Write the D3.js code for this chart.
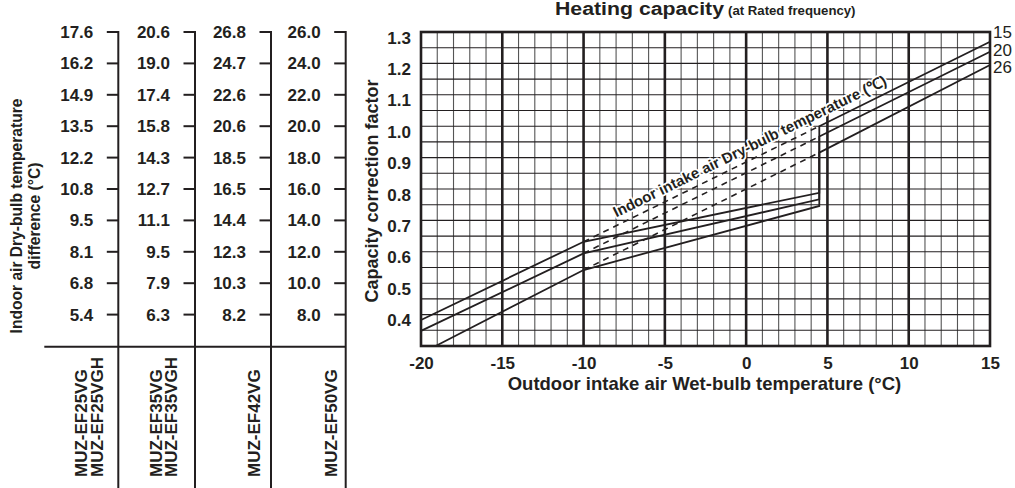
<!DOCTYPE html>
<html>
<head>
<meta charset="utf-8">
<script src="https://cdn.jsdelivr.net/npm/d3@7/dist/d3.min.js"></script>
<style>
  html, body { margin: 0; padding: 0; background: #fff; }
  svg { display: block; }
  text { font-family: "Liberation Sans", Arial, Helvetica, sans-serif; fill: #231f20; }
</style>
</head>
<body>
<svg id="chart" width="1015" height="488"></svg>
<script>
// ---------------- DATA ----------------
const xTicks = [-20, -15, -10, -5, 0, 5, 10, 15];
const yTicks = [0.4, 0.5, 0.6, 0.7, 0.8, 0.9, 1.0, 1.1, 1.2, 1.3];
const indoorTemps = ["15", "20", "26"];

// Solid curves, defrost region (outdoor WB, factor)
const defrost15 = [[-20, 0.383], [-10, 0.632], [4.5, 0.788]];
const defrost20 = [[-20, 0.348], [-10, 0.595], [4.5, 0.767]];
const defrost26 = [[-19.1, 0.300], [-10, 0.542], [4.5, 0.746]];
// Solid curves, no-defrost region
const rated15 = [[4.5, 1.000], [15, 1.269]];
const rated20 = [[4.5, 0.967], [15, 1.237]];
const rated26 = [[4.5, 0.916], [15, 1.195]];

// Left table: indoor air dry-bulb temperature difference per model
const models = [["MUZ-EF25VG", "MUZ-EF25VGH"], ["MUZ-EF35VG", "MUZ-EF35VGH"], ["MUZ-EF42VG"], ["MUZ-EF50VG"]];
const diffEF25 = [17.6, 16.2, 14.9, 13.5, 12.2, 10.8, 9.5, 8.1, 6.8, 5.4];
const diffEF35 = [20.6, 19.0, 17.4, 15.8, 14.3, 12.7, 11.1, 9.5, 7.9, 6.3];
const diffEF42 = [26.8, 24.7, 22.6, 20.6, 18.5, 16.5, 14.4, 12.3, 10.3, 8.2];
const diffEF50 = [26.0, 24.0, 22.0, 20.0, 18.0, 16.0, 14.0, 12.0, 10.0, 8.0];

// ---------------- DRAW ----------------
const svg = d3.select("#chart");
svg.append("rect").attr("width", 1015).attr("height", 488).attr("fill", "#fff");

const x = d3.scaleLinear().domain([-20, 15]).range([421, 990]);
const y = d3.scaleLinear().domain([0.3, 1.3]).range([346, 32]);
const ink = "#231f20";

// grid
const grid = svg.append("g");
d3.range(-19, 15).filter(v => v % 5 !== 0).forEach(v => {
  grid.append("line").attr("x1", x(v)).attr("x2", x(v)).attr("y1", y(1.3)).attr("y2", y(0.3))
    .attr("stroke", "#555").attr("stroke-width", 1.1);
});
d3.range(7, 26).map(i => i * 0.05).forEach(v => {
  grid.append("line").attr("x1", x(-20)).attr("x2", x(15)).attr("y1", y(v)).attr("y2", y(v))
    .attr("stroke", ink).attr("stroke-width", 1.1);
});
[-15, -10, -5, 0, 5, 10].forEach(v => {
  grid.append("line").attr("x1", x(v)).attr("x2", x(v)).attr("y1", y(1.3)).attr("y2", y(0.3))
    .attr("stroke", ink).attr("stroke-width", 2.6);
});
grid.append("rect").attr("x", x(-20)).attr("y", y(1.3))
  .attr("width", x(15) - x(-20)).attr("height", y(0.3) - y(1.3))
  .attr("fill", "none").attr("stroke", ink).attr("stroke-width", 2.6);

// curves
const line = d3.line().x(d => x(d[0])).y(d => y(d[1]));
const defrost = [defrost15, defrost20, defrost26];
const rated = [rated15, rated20, rated26];
const curves = svg.append("g");
defrost.forEach((d, i) => {
  curves.append("path").attr("d", line(d.concat(rated[i])))
    .attr("fill", "none").attr("stroke", ink).attr("stroke-width", 1.8).attr("stroke-linejoin", "miter");
  curves.append("path").attr("d", line([d[1], rated[i][0]]))
    .attr("fill", "none").attr("stroke", ink).attr("stroke-width", 1.6).attr("stroke-dasharray", "6,5");
});

// curve label along dashed lines
const a0 = [x(-10), y(0.632)], a1 = [x(4.5), y(1.0)];
const ang = Math.atan2(a1[1] - a0[1], a1[0] - a0[0]) * 180 / Math.PI;
svg.append("text")
  .attr("transform", `translate(752,151) rotate(${ang})`)
  .attr("text-anchor", "middle")
  .attr("font-size", 15).attr("font-weight", "bold")
  .attr("stroke", "#fff").attr("stroke-width", 3.5).attr("paint-order", "stroke")
  .attr("stroke-linejoin", "round")
  .text("Indoor intake air Dry-bulb temperature (\u2103)");

// end labels
rated.forEach((d, i) => {
  svg.append("text").attr("x", 993).attr("y", [38, 55.5, 72.5][i])
    .attr("font-size", 17).text(indoorTemps[i]);
});

// axes
const xAxis = svg.append("g").attr("transform", `translate(0,${y(0.3)})`)
  .call(d3.axisBottom(x).tickValues(xTicks).tickSize(0).tickPadding(8).tickFormat(d3.format("d")));
xAxis.select(".domain").remove();
xAxis.selectAll("text").attr("font-size", 17).attr("font-weight", "bold")
  .attr("font-family", "Liberation Sans, Arial, sans-serif").attr("fill", ink)
  .attr("dy", "0.9em").text(d => String(d));

const yAxis = svg.append("g").attr("transform", `translate(${x(-20)},0)`)
  .call(d3.axisLeft(y).tickValues(yTicks).tickSize(0).tickPadding(10).tickFormat(d3.format(".1f")));
yAxis.select(".domain").remove();
yAxis.selectAll("text").attr("font-size", 17).attr("font-weight", "bold")
  .attr("font-family", "Liberation Sans, Arial, sans-serif").attr("fill", ink)
  .attr("dy", "0.65em");

svg.append("text").attr("x", 704.5).attr("y", 390).attr("text-anchor", "middle")
  .attr("font-size", 18.5).attr("font-weight", "bold")
  .text("Outdoor intake air Wet-bulb temperature (°C)");
svg.append("text").attr("transform", "translate(378,191) rotate(-90)").attr("text-anchor", "middle")
  .attr("font-size", 18).attr("font-weight", "bold")
  .text("Capacity correction factor");

// title
const title = svg.append("text").attr("x", 555).attr("y", 15).attr("font-weight", "bold");
title.append("tspan").attr("font-size", 18).attr("textLength", 169).attr("lengthAdjust", "spacingAndGlyphs")
  .text("Heating capacity");
title.append("tspan").attr("x", 728).attr("font-size", 13.2).text("(at Rated frequency)");

// ---------------- LEFT TABLE ----------------
const cols = [diffEF25, diffEF35, diffEF42, diffEF50];
const colLineX = [118.3, 195, 271, 345.7];
const rowVals = yTicks.slice().reverse(); // 1.3 ... 0.4
const tbl = svg.append("g");
cols.forEach((vals, c) => {
  const lx = colLineX[c];
  tbl.append("line").attr("x1", lx).attr("x2", lx).attr("y1", y(1.3) - 1).attr("y2", 488)
    .attr("stroke", ink).attr("stroke-width", 2);
  vals.forEach((v, r) => {
    const ty = y(rowVals[r]);
    tbl.append("line").attr("x1", lx - 11.5).attr("x2", lx).attr("y1", ty).attr("y2", ty)
      .attr("stroke", ink).attr("stroke-width", 2);
    tbl.append("text").attr("x", lx - 25).attr("y", ty + 6).attr("text-anchor", "end")
      .attr("font-size", 17).attr("font-weight", "bold").text(v.toFixed(1));
  });
});
tbl.append("line").attr("x1", 44.3).attr("x2", 345.7).attr("y1", 346.7).attr("y2", 346.7)
  .attr("stroke", ink).attr("stroke-width", 2);

const modelBase = [[87, 103], [161.5, 176.5], [260], [336.5]];
models.forEach((names, c) => {
  names.forEach((n, k) => {
    tbl.append("text").attr("transform", `translate(${modelBase[c][k]},477) rotate(-90)`)
      .attr("font-size", 17).attr("font-weight", "bold").text(n);
  });
});

svg.append("text").attr("transform", "translate(21.5,216) rotate(-90)").attr("text-anchor", "middle")
  .attr("font-size", 15.6).attr("font-weight", "bold").text("Indoor air Dry-bulb temperature");
svg.append("text").attr("transform", "translate(40,216) rotate(-90)").attr("text-anchor", "middle")
  .attr("font-size", 15.6).attr("font-weight", "bold").text("difference (°C)");
</script>
</body>
</html>
